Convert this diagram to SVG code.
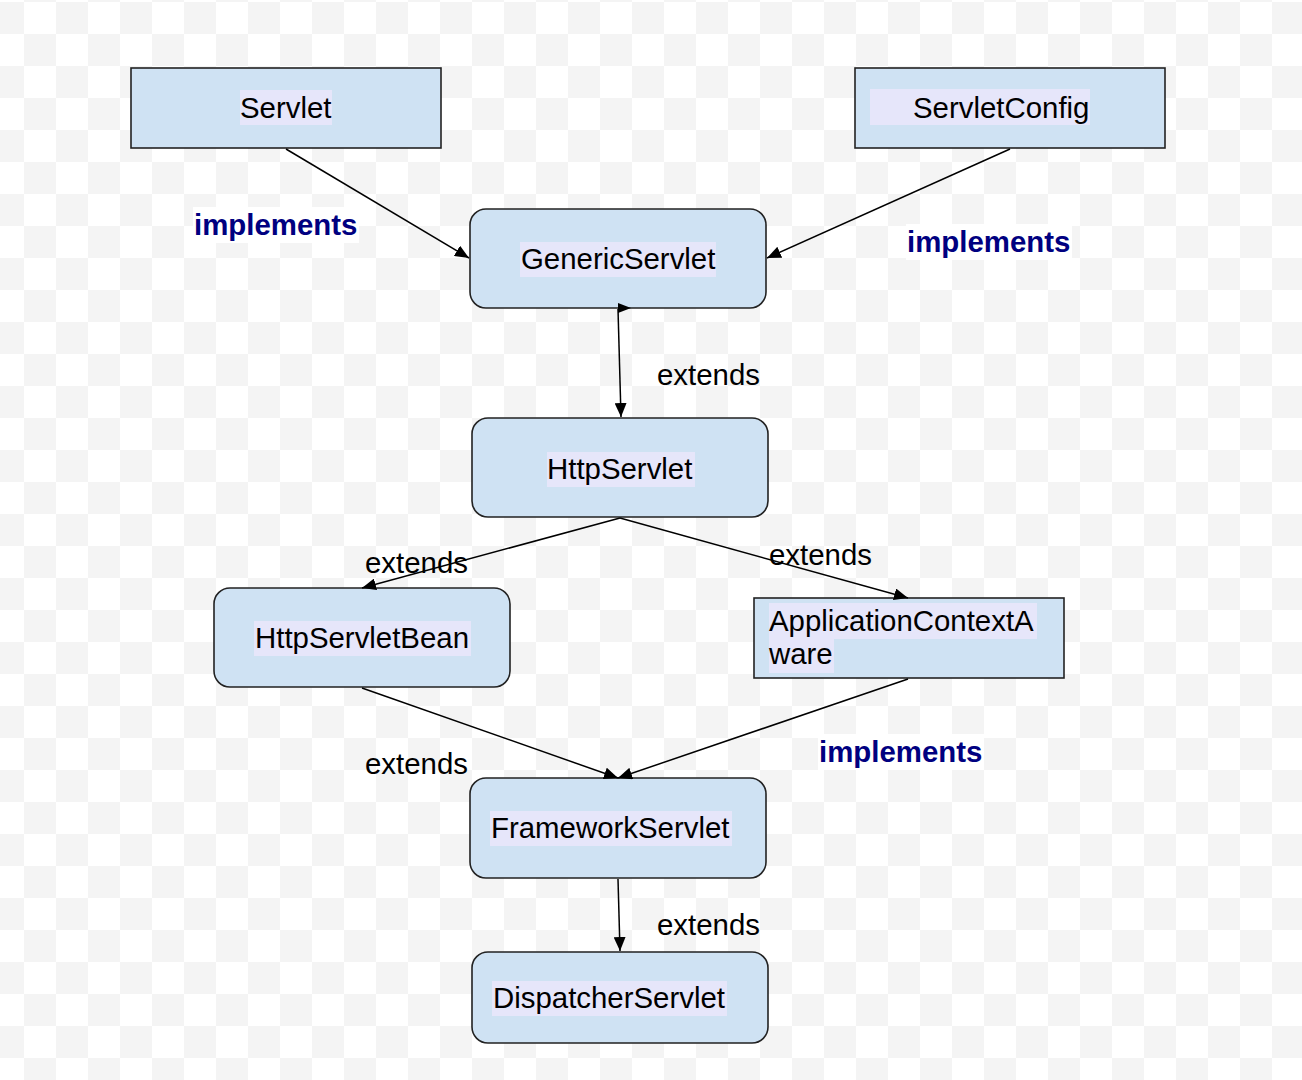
<svg xmlns="http://www.w3.org/2000/svg" width="1302" height="1080" viewBox="0 0 1302 1080">
<defs>
<pattern id="checker" patternUnits="userSpaceOnUse" x="-8" y="2" width="64" height="64">
<rect width="64" height="64" fill="#ffffff"/>
<rect x="0" y="0" width="32" height="32" fill="#f4f4f4"/>
<rect x="32" y="32" width="32" height="32" fill="#f4f4f4"/>
</pattern>
<marker id="arrow" markerUnits="userSpaceOnUse" viewBox="0 0 14 12" refX="14" refY="6" markerWidth="14" markerHeight="12" orient="auto">
<path d="M0,0 L14,6 L0,12 Z" fill="#000"/>
</marker>
<style>
.box{fill:#cfe2f3;stroke:#222;stroke-width:1.6}
.hl{fill:#e6e6fa}
.t{font-family:"Liberation Sans",Arial,sans-serif;font-size:29.4px;fill:#000}
.impl{font-family:"Liberation Sans",Arial,sans-serif;font-size:29.4px;font-weight:bold;fill:#000080}
.edge{stroke:#000;stroke-width:1.5;fill:none;marker-end:url(#arrow)}
</style>
</defs>
<rect width="1302" height="1080" fill="url(#checker)"/>

<g id="labels">
<rect x="193" y="207" width="166" height="36" fill="#fff"/>
<text class="impl" x="194" y="235">implements</text>
<rect x="906" y="224" width="166" height="36" fill="#fff"/>
<text class="impl" x="907" y="252">implements</text>
<rect x="818" y="734" width="166" height="36" fill="#fff"/>
<text class="impl" x="819" y="762">implements</text>
<text class="t" x="657" y="385">extends</text>
<text class="t" x="365" y="573">extends</text>
<text class="t" x="769" y="565">extends</text>
<text class="t" x="365" y="774">extends</text>
<text class="t" x="657" y="935">extends</text>
</g>

<g id="node-servlet">
<rect class="box" x="131" y="68" width="310" height="80"/>
<rect class="hl" x="240" y="90" width="92" height="35"/>
<text class="t" x="240" y="118">Servlet</text>
</g>

<g id="node-servletconfig">
<rect class="box" x="855" y="68" width="310" height="80"/>
<rect class="hl" x="870" y="89" width="220" height="36"/>
<text class="t" x="913" y="118">ServletConfig</text>
</g>

<g id="node-genericservlet">
<rect class="box" x="470" y="209" width="296" height="99" rx="16" ry="16"/>
<rect class="hl" x="520" y="242" width="196" height="35"/>
<text class="t" x="521" y="269">GenericServlet</text>
</g>

<g id="node-httpservlet">
<rect class="box" x="472" y="418" width="296" height="99" rx="16" ry="16"/>
<rect class="hl" x="547" y="452" width="148" height="35"/>
<text class="t" x="547" y="479">HttpServlet</text>
</g>

<g id="node-httpservletbean">
<rect class="box" x="214" y="588" width="296" height="99" rx="16" ry="16"/>
<rect class="hl" x="254" y="621" width="217" height="35"/>
<text class="t" x="255" y="648">HttpServletBean</text>
</g>

<g id="node-applicationcontextaware">
<rect class="box" x="754" y="598" width="310" height="80"/>
<rect class="hl" x="769" y="603" width="268" height="36"/>
<rect class="hl" x="769" y="639" width="65" height="34"/>
<text class="t" x="769" y="631">ApplicationContextA</text>
<text class="t" x="769" y="664">ware</text>
</g>

<g id="node-frameworkservlet">
<rect class="box" x="470" y="778" width="296" height="100" rx="16" ry="16"/>
<rect class="hl" x="490" y="811" width="242" height="35"/>
<text class="t" x="491" y="838">FrameworkServlet</text>
</g>

<g id="node-dispatcherservlet">
<rect class="box" x="472" y="952" width="296" height="91" rx="16" ry="16"/>
<rect class="hl" x="492" y="981" width="235" height="35"/>
<text class="t" x="493" y="1008">DispatcherServlet</text>
</g>

<g id="connectors">
<line class="edge" x1="286" y1="149" x2="469" y2="258"/>
<line class="edge" x1="1010" y1="149" x2="767" y2="258"/>
<line class="edge" x1="618" y1="309" x2="621" y2="417"/>
<path d="M618,303 L631,308 L618,313 Z" fill="#000"/>
<line class="edge" x1="620" y1="518" x2="362" y2="588"/>
<line class="edge" x1="620" y1="518" x2="908" y2="598"/>
<line class="edge" x1="362" y1="688" x2="618" y2="778"/>
<line class="edge" x1="908" y1="679" x2="618" y2="778"/>
<line class="edge" x1="618" y1="879" x2="620" y2="951"/>
</g>
</svg>
